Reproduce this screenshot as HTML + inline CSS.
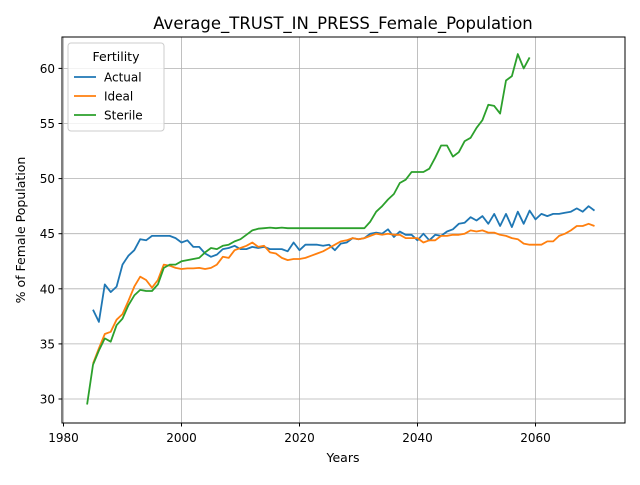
<!DOCTYPE html>
<html><head><meta charset="utf-8"><style>
body{margin:0;background:#fff;font-family:"Liberation Sans","DejaVu Sans",sans-serif}
svg text{font-family:"DejaVu Sans","Liberation Sans",sans-serif}
</style></head><body>
<svg id="chart" width="640" height="480" xmlns="http://www.w3.org/2000/svg">
<rect width="640" height="480" fill="#fff"/>
<text x="343" y="29" font-size="16.5" text-anchor="middle">Average_TRUST_IN_PRESS_Female_Population</text>
<g id="grid"></g><g id="series"></g>
<rect x="62" y="37" width="563" height="386" fill="none" stroke="#000" stroke-width="1"/>
<g id="ticks"></g>
<text x="343" y="462" font-size="12.5" text-anchor="middle">Years</text>
<text transform="translate(25,230) rotate(-90)" font-size="12.5" text-anchor="middle">% of Female Population</text>
<g id="legend"></g>
</svg>
<script>
const actualYears0=1985;
const actualVals=[38.1,37.0,40.4,39.7,40.2,42.2,43.0,43.5,44.5,44.4,44.8,44.8,44.8,44.8,44.6,44.2,44.4,43.8,43.8,43.2,42.9,43.1,43.6,43.7,43.9,43.6,43.6,43.8,43.7,43.8,43.6,43.6,43.6,43.4,44.2,43.5,44.0,44.0,44.0,43.9,44.0,43.5,44.1,44.2,44.6,44.5,44.6,45.0,45.1,45.0,45.4,44.7,45.2,44.9,44.9,44.4,45.0,44.4,44.9,44.8,45.2,45.4,45.9,46.0,46.5,46.2,46.6,45.9,46.8,45.7,46.8,45.6,47.0,45.9,47.1,46.3,46.8,46.6,46.8,46.8,46.9,47.0,47.3,47.0,47.5,47.1];
const idealYears0=1985;
const idealVals=[33.2,34.6,35.9,36.1,37.2,37.7,38.9,40.2,41.1,40.8,40.1,40.8,42.2,42.1,41.9,41.8,41.85,41.85,41.9,41.8,41.9,42.2,42.9,42.8,43.5,43.7,43.9,44.2,43.8,43.9,43.3,43.2,42.8,42.6,42.7,42.7,42.8,43.0,43.2,43.4,43.7,44.0,44.3,44.4,44.6,44.5,44.6,44.8,45.0,44.9,45.0,44.9,44.9,44.6,44.6,44.6,44.2,44.4,44.4,44.8,44.8,44.9,44.9,45.0,45.3,45.2,45.3,45.1,45.1,44.9,44.8,44.6,44.5,44.1,44.0,44.0,44.0,44.3,44.3,44.8,45.0,45.3,45.7,45.7,45.9,45.7];
const sterileYears0=1984;
const sterileVals=[29.5,33.1,34.4,35.5,35.2,36.7,37.3,38.5,39.4,39.9,39.8,39.8,40.4,41.9,42.2,42.2,42.5,42.6,42.7,42.8,43.3,43.7,43.6,43.9,44.0,44.3,44.5,44.9,45.3,45.45,45.5,45.55,45.5,45.55,45.5,45.5,45.5,45.5,45.5,45.5,45.5,45.5,45.5,45.5,45.5,45.5,45.5,45.5,46.1,47.0,47.5,48.1,48.6,49.6,49.9,50.6,50.6,50.6,50.9,51.9,53.0,53.0,52.0,52.4,53.4,53.7,54.6,55.3,56.7,56.6,55.9,58.9,59.3,61.3,60.0,61.0];
const xTicks=[1980,2000,2020,2040,2060];
const yTicks=[30,35,40,45,50,55,60];
const X=y=>63.5+(y-1980)*5.9;
const Y=v=>399-(v-30)*11.02;
const NS="http://www.w3.org/2000/svg";
function mk(t,a,p){const e=document.createElementNS(NS,t);for(const k in a)e.setAttribute(k,a[k]);p.appendChild(e);return e;}
const grid=document.getElementById('grid'),ticks=document.getElementById('ticks'),ser=document.getElementById('series'),leg=document.getElementById('legend');
xTicks.forEach(t=>{const x=X(t);
const g=mk('line',{x1:x,x2:x,y1:37,y2:423,stroke:'#b0b0b0','stroke-width':0.8},grid);


mk('line',{x1:x,x2:x,y1:423,y2:426.5,stroke:'#000'},ticks);
const l=mk('text',{x:x,y:442,'font-size':12,'text-anchor':'middle'},ticks);l.textContent=t;

});
yTicks.forEach(t=>{const y=Y(t);
const g=mk('line',{x1:62,x2:625,y1:y,y2:y,stroke:'#b0b0b0','stroke-width':0.8},grid);


mk('line',{x1:58.5,x2:62,y1:y,y2:y,stroke:'#000'},ticks);
const l=mk('text',{x:55,y:y+4.5,'font-size':12,'text-anchor':'end'},ticks);l.textContent=t;

});
const series=[['Actual',actualYears0,actualVals,'#1f77b4'],['Ideal',idealYears0,idealVals,'#ff7f0e'],['Sterile',sterileYears0,sterileVals,'#2ca02c']];
series.forEach(([n,y0,vals,c])=>{const pts=vals.map((v,i)=>X(y0+i).toFixed(1)+','+Y(v).toFixed(1)).join(' ');
const p=mk('polyline',{points:pts,fill:'none',stroke:c,'stroke-width':1.8,'stroke-linejoin':'round'},ser);

});
const box=mk('rect',{x:68,y:43,width:96,height:88,rx:3,fill:'#fff','fill-opacity':0.8,stroke:'#ccc'},leg);


const lt=mk('text',{x:116,y:61,'font-size':12.5,'text-anchor':'middle'},leg);lt.textContent='Fertility';


series.forEach(([n,,,c],i)=>{const y=77+i*19;
const g=mk('g',{},leg);


mk('line',{x1:74,x2:96,y1:y,y2:y,stroke:c,'stroke-width':1.8},g);
const t=mk('text',{x:104,y:y+4.5,'font-size':12},g);t.textContent=n;});
</script>
</body></html>
